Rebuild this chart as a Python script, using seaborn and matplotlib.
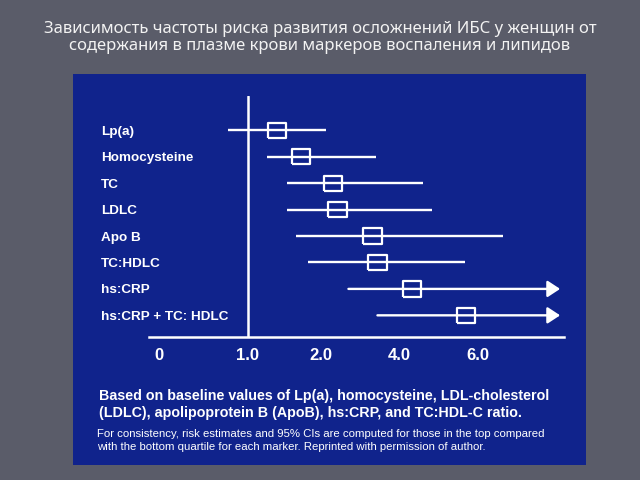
import numpy as np
import pandas as pd
import matplotlib
matplotlib.use("Agg")
import matplotlib.pyplot as plt
from matplotlib.patches import Rectangle
import seaborn as sns

# ---- data ----
markers = ["Lp(a)", "Homocysteine", "TC", "LDLC", "Apo B", "TC:HDLC",
           "hs:CRP", "hs:CRP + TC: HDLC"]
estimate = [1.40, 1.73, 2.31, 2.42, 3.31, 3.44, 4.32, 5.70]
lower = [0.78, 1.26, 1.53, 1.53, 1.66, 1.82, 2.70, 3.44]
upper = [2.13, 3.40, 4.61, 4.83, 6.65, 5.68, np.nan, np.nan]   # nan -> arrow
tick_values = [0, 1, 2, 4, 6]
tick_labels = ["0", "1.0", "2.0", "4.0", "6.0"]
title = ("Зависимость частоты риска развития осложнений ИБС у женщин от\n"
         "содержания в плазме крови маркеров воспаления и липидов")
note_bold = ["Based on baseline values of Lp(a), homocysteine, LDL-cholesterol",
             "(LDLC), apolipoprotein B (ApoB), hs:CRP, and TC:HDL-C ratio."]
note_small = ["For consistency, risk estimates and 95% CIs are computed for those in the top compared",
              "with the bottom quartile for each marker. Reprinted with permission of author."]

df = pd.DataFrame({"marker": markers, "est": estimate, "lo": lower, "hi": upper})

# ---- style ----
GRAY = "#5a5c69"
BLUE = "#10238c"
W = 640.0
H = 480.0
ARROW_END = 8.1

sns.set_theme(style="white")
plt.rcParams["font.family"] = ["Liberation Sans", "DejaVu Sans"]

fig = plt.figure(figsize=(6.4, 4.8), dpi=100, facecolor=GRAY)
fig.patches.append(Rectangle((73 / W, 1 - 465 / H), (586 - 73) / W, (465 - 74) / H,
                             transform=fig.transFigure, fc=BLUE, ec="none", zorder=-5))

ax_l, ax_r, ax_t, ax_b = 149, 564, 96, 337
ax = fig.add_axes([ax_l / W, 1 - ax_b / H, (ax_r - ax_l) / W, (ax_b - ax_t) / H])
ax.set_facecolor("none")
ax.set_zorder(2)

# hand-drawn-like piecewise axis
VK = np.array([-1.0, 0.0, 1.0, 2.0, 10.0])
PK = np.array([69.7, 158.7, 247.7, 321.0, 634.6])
fwd = lambda v: np.interp(v, VK, PK)
inv = lambda p: np.interp(p, PK, VK)
ax.set_xscale("function", functions=(fwd, inv))
ax.set_xlim(inv(ax_l), inv(ax_r))

ypos = np.arange(len(df))
ax.axvline(1, 0, 1, color="white", lw=1.8, zorder=2)

has_hi = df["hi"].notna().values
ax.hlines(ypos[has_hi], df["lo"][has_hi], df["hi"][has_hi], color="white", lw=1.7, zorder=2)
for y, lo in zip(ypos[~has_hi], df["lo"][~has_hi]):
    ax.annotate("", xy=(ARROW_END, y), xytext=(lo, y),
                arrowprops=dict(arrowstyle="-|>,head_length=0.38,head_width=0.25",
                                color="white", lw=1.7, mutation_scale=20,
                                shrinkA=0, shrinkB=0), zorder=2)

rect = [(-1.2, -1), (1.2, -1), (1.2, 1), (-1.2, 1), (-1.2, -1)]
sns.scatterplot(data=df, x="est", y="marker", marker=rect, s=175,
                facecolor="none", edgecolor="white", linewidth=1.6, zorder=3, ax=ax,
                legend=False)

ax.set_ylim(7.82, -1.3)
ax.set_yticks(ypos)
ax.set_yticklabels(markers, ha="left", color="white", fontsize=9.7, fontweight="bold")
ax.tick_params(axis="y", length=0, pad=34.5)
ax.set_xticks(tick_values)
ax.set_xticklabels(tick_labels, color="white", fontsize=12, fontweight="bold")
ax.tick_params(axis="x", length=0, pad=8)
ax.minorticks_off()
ax.set_xlabel("")
ax.set_ylabel("")
for s in ["top", "right", "left"]:
    ax.spines[s].set_visible(False)
ax.spines["bottom"].set_color("white")
ax.spines["bottom"].set_linewidth(1.8)

fig.text(0.5, 1 - 37.5 / H, title, ha="center", va="center", color="#f2f2f2",
         fontsize=12, family=["Noto Sans", "DejaVu Sans"], linespacing=1.15)
for i, line in enumerate(note_bold):
    fig.text(99 / W, 1 - (396 + 17.3 * i) / H, line, ha="left", va="center",
             color="white", fontsize=10.3, fontweight="bold")
for i, line in enumerate(note_small):
    fig.text(97 / W, 1 - (434 + 13.3 * i) / H, line, ha="left", va="center",
             color="white", fontsize=8.2)

fig.savefig("out.png", dpi=100, facecolor=GRAY)
